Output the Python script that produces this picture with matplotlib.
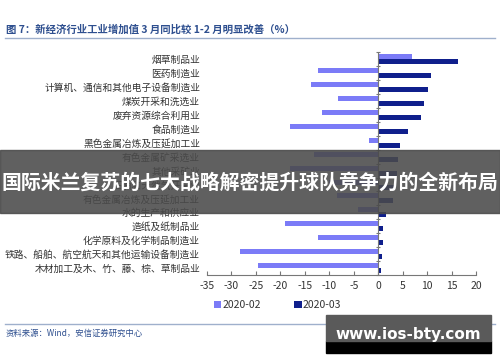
import numpy as np
import matplotlib
matplotlib.use("Agg")
from matplotlib import pyplot as plt
from matplotlib.patches import Rectangle

plt.rcParams['font.family'] = ['Noto Sans CJK SC', 'DejaVu Sans']

# data, top row first
industries = [
    '烟草制品业',
    '医药制造业',
    '计算机、通信和其他电子设备制造业',
    '煤炭开采和洗选业',
    '废弃资源综合利用业',
    '食品制造业',
    '黑色金属冶炼及压延加工业',
    '有色金属矿采选业',
    '其他采矿业',
    '石油和天然气开采业',
    '有色金属冶炼及压延加工业',
    '水的生产和供应业',
    '造纸及纸制品业',
    '化学原料及化学制品制造业',
    '铁路、船舶、航空航天和其他运输设备制造业',
    '木材加工及木、竹、藤、棕、草制品业',
]
feb_2020 = [7.0, -12.3, -13.8, -8.2, -11.5, -18.1, -1.9, -13.1, -18.1, -10.0,
            -8.5, -4.2, -19.0, -12.3, -28.2, -24.6]
mar_2020 = [16.4, 10.8, 10.2, 9.4, 8.8, 6.0, 4.4, 4.1, 3.9, 3.4,
            3.1, 1.6, 1.0, 0.9, 0.7, 0.5]
series_names = ['2020-02', '2020-03']
x_ticks = [-35, -30, -25, -20, -15, -10, -5, 0, 5, 10, 15, 20]

light = '#7B7BF7'
dark = '#0F1F8C'

fig = plt.figure(figsize=(5.0, 3.62), dpi=100)
ax = fig.add_axes([0.414, 0.240, 0.538, 0.616])

y = np.arange(len(industries))
h = 0.36
ax.barh(y - h / 2, feb_2020, height=h, color=light, label=series_names[0])
ax.barh(y + h / 2, mar_2020, height=h, color=dark, label=series_names[1])

ax.set_ylim(len(industries) - 0.5, -0.5)
ax.set_xlim(-35, 20)
ax.set_xticks(x_ticks)
ax.set_xticklabels([str(t) for t in x_ticks], fontsize=7.5, color='#333333')
ax.set_yticks(y)
ax.set_yticklabels(industries, fontsize=7, color='#333333')
ax.tick_params(axis='y', length=0, pad=5)
ax.tick_params(axis='x', length=3, color='#777777', pad=4, direction='in')
for side in ['top', 'right', 'left']:
    ax.spines[side].set_visible(False)
ax.spines['bottom'].set_color('#777777')
ax.axvline(0, color='#777777', lw=0.8)
# little ticks on the zero line between rows
ax.plot(np.zeros(len(industries) + 1), np.arange(len(industries) + 1) - 0.5,
        marker='_', ms=3, color='#777777', lw=0, mew=0.8, clip_on=False)

leg = fig.legend(loc='center', bbox_to_anchor=(0.555, 0.157), ncol=2, frameon=False,
                 fontsize=7.5, handlelength=0.7, handleheight=0.7, handletextpad=0.1,
                 columnspacing=3.2)
for t in leg.get_texts():
    t.set_color('#333333')

# title and rules
fig.text(0.012, 0.918, '图 7：新经济行业工业增加值 3 月同比较 1-2 月明显改善（%）',
         fontsize=7.5, fontweight='bold', color='#2E4F8F', va='center')
fig.add_artist(plt.Line2D([0.01, 0.99], [0.895, 0.895], color='#9FB0CC', lw=1.0))
fig.add_artist(plt.Line2D([0.01, 0.99], [0.105, 0.105], color='#9FB0CC', lw=1.0))
fig.text(0.012, 0.080, '资料来源：Wind，安信证券研究中心', fontsize=6, style='italic',
         color='#2E4F8F', va='center')

# overlay banner
fig.add_artist(Rectangle((0.0, 1 - 213 / 362), 1.0, 63 / 362, transform=fig.transFigure,
                         color='#4A4A4A', alpha=0.88, zorder=10))
fig.text(0.5, 1 - 182 / 362, '国际米兰复苏的七大战略解密提升球队竞争力的全新布局',
         fontsize=14.3, fontweight='bold', color='white', ha='center', va='center', zorder=11)

# watermark box
fig.add_artist(Rectangle((326 / 500, 1 - 353 / 362), 165 / 500, 12 / 362,
                         transform=fig.transFigure, color='black', zorder=10))
fig.add_artist(Rectangle((326 / 500, 1 - 341 / 362), 165 / 500, 26 / 362,
                         transform=fig.transFigure, color='#5A5A5A', zorder=10))
fig.text(408 / 500, 1 - 334 / 362, 'www.ios-bty.com', fontsize=11, fontweight='bold',
         color='white', ha='center', va='center', zorder=11, family='DejaVu Sans')

fig.savefig('out.png', dpi=100)
